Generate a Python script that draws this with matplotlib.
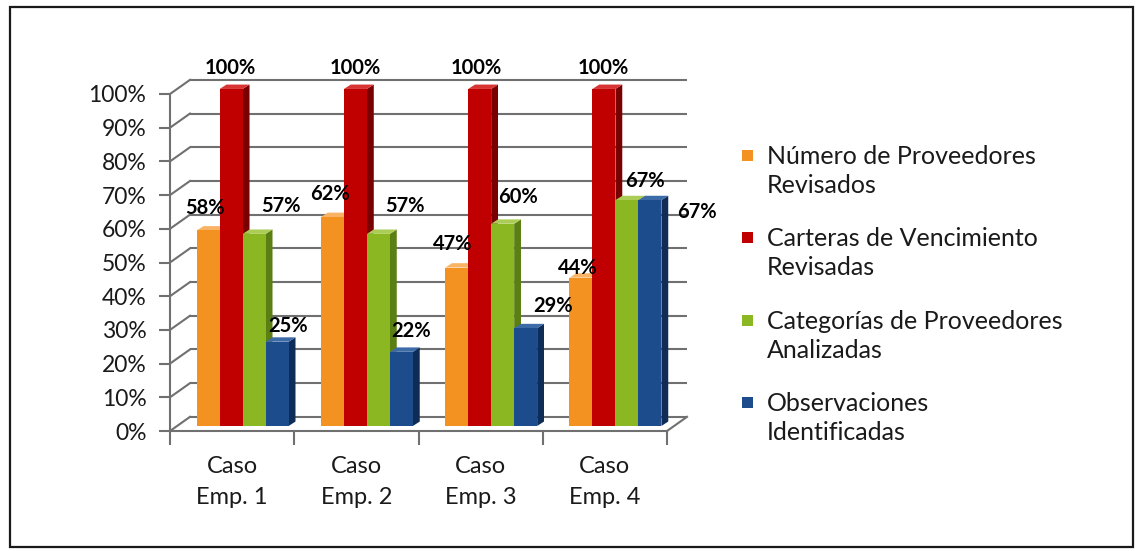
import numpy as np
import matplotlib
matplotlib.use("Agg")
import matplotlib.pyplot as plt
from matplotlib.patches import Polygon, Rectangle

plt.rcParams['font.family'] = ['Lato', 'DejaVu Sans']

# ---- data ----
categories = ["Caso\nEmp. 1", "Caso\nEmp. 2", "Caso\nEmp. 3", "Caso\nEmp. 4"]
series_names = [
    "Número de Proveedores\nRevisados",
    "Carteras de Vencimiento\nRevisadas",
    "Categorías de Proveedores\nAnalizadas",
    "Observaciones\nIdentificadas",
]
proveedores_revisados = [0.58, 0.62, 0.47, 0.44]
carteras_revisadas = [1.00, 1.00, 1.00, 1.00]
categorias_analizadas = [0.57, 0.57, 0.60, 0.67]
observaciones = [0.25, 0.22, 0.29, 0.67]
series_values = [proveedores_revisados, carteras_revisadas,
                 categorias_analizadas, observaciones]
y_ticks = np.round(np.arange(0, 1.01, 0.1), 2)

# ---- styling ----
front_colors = ["#F39221", "#C00000", "#8BB723", "#1D4C8C"]
side_colors = ["#B5610F", "#780000", "#5B7F12", "#0F2C57"]
top_colors = ["#F8B365", "#D83434", "#ABCD55", "#3D6BA8"]
grid_color = "#707070"
text_color = "#1a1a1a"

# label offsets in pixels (dx, dy) relative to the bar's front-top centre
label_offsets = [
    [(-3, 22), (-1, 21), (27, 28), (11, 16)],
    [(-2, 23), (0, 21), (27, 28), (10, 21)],
    [(-4, 24), (-3, 21), (15, 27), (27, 22)],
    [(-3, 10), (-1, 21), (18, 19), (47, -12)],
]

W, H = 1136, 551
fig = plt.figure(figsize=(W / 100, H / 100), dpi=100)
ax = fig.add_axes([170 / W, (H - 431) / H, 497 / W, 337 / H])
ax.set_xlim(0, 4)
ax.set_ylim(0, 1)
ax.patch.set_alpha(0)

# depth of the chart box (back wall offset) and bar depth, in data units
depth_x, depth_y = 0.161, 0.042
bar_dx, bar_dy = 0.055, 0.013
bar_base = 0.015
bar_w = 0.185
group_shift = 0.085

# back wall gridlines and side wall diagonals
for t in y_ticks:
    ax.plot([depth_x, 4 + depth_x], [t + depth_y, t + depth_y],
            color=grid_color, lw=1.5, zorder=1, clip_on=False,
            solid_capstyle='butt')
    ax.plot([0, depth_x], [t, t + depth_y], color=grid_color, lw=1.5,
            zorder=1, clip_on=False)
# floor right edge
ax.plot([4, 4 + depth_x], [0, depth_y], color=grid_color, lw=1.5,
        zorder=1, clip_on=False)

# bars with side and top faces
n_series = len(series_values)
for c in range(len(categories)):
    for s in range(n_series):
        v = series_values[s][c]
        left = c + 0.5 - n_series * bar_w / 2 + group_shift + s * bar_w
        z = 3 + c * 10 + s
        bars = ax.bar(left, v, width=bar_w, bottom=bar_base, align='edge',
                      color=front_colors[s], edgecolor='none', zorder=z + 0.5)
        for p in bars:
            p.set_clip_on(False)
        top = bar_base + v
        right = left + bar_w
        side = Polygon([(right, bar_base), (right + bar_dx, bar_base + bar_dy),
                        (right + bar_dx, top + bar_dy), (right, top)],
                       closed=True, facecolor=side_colors[s], edgecolor='none',
                       zorder=z + 0.4, clip_on=False)
        cap = Polygon([(left, top), (left + bar_dx, top + bar_dy),
                       (right + bar_dx, top + bar_dy), (right, top)],
                      closed=True, facecolor=top_colors[s], edgecolor='none',
                      zorder=z + 0.4, clip_on=False)
        ax.add_patch(side)
        ax.add_patch(cap)
        dx, dy = label_offsets[c][s]
        ax.annotate(f"{int(round(v * 100))}%", xy=(left + bar_w / 2, top),
                    xytext=(dx, dy), textcoords='offset pixels',
                    ha='center', va='center', fontsize=14.5,
                    fontweight='bold', color='black', zorder=100,
                    annotation_clip=False)

# axes lines and ticks
for side_name in ['top', 'right']:
    ax.spines[side_name].set_visible(False)
for side_name in ['left', 'bottom']:
    ax.spines[side_name].set_color(grid_color)
    ax.spines[side_name].set_linewidth(1.5)
    ax.spines[side_name].set_zorder(2)

ax.set_yticks(y_ticks)
ax.set_yticklabels([f"{int(round(t * 100))}%" for t in y_ticks])
ax.tick_params(axis='y', length=8, width=1.5, color=grid_color, pad=9,
               labelsize=16.5, labelcolor=text_color)
ax.set_xticks(np.arange(0, 5))
ax.set_xticklabels([])
ax.tick_params(axis='x', which='major', length=10, width=1.5,
               color=grid_color)
ax.set_xticks(np.arange(len(categories)) + 0.5, minor=True)
ax.set_xticklabels(categories, minor=True, fontsize=17, color=text_color,
                   linespacing=1.58)
ax.tick_params(axis='x', which='minor', length=0, pad=18)

# legend, drawn as squares and wrapped labels
legend_x_box = 742 / W
legend_x_text = 767 / W
first_line_y = [155, 237, 320, 402]
for s, name in enumerate(series_names):
    yc = (H - first_line_y[s]) / H
    fig.patches.append(Rectangle((legend_x_box, yc - 6 / H), 11 / W, 11 / H,
                                 transform=fig.transFigure,
                                 facecolor=front_colors[s], edgecolor='none'))
    fig.text(legend_x_text, yc + 10 / H, name, ha='left', va='top',
             fontsize=18, color=text_color, linespacing=1.34)

# outer frame
fig.patches.append(Rectangle((10 / W, 4 / H), 1123 / W, 540 / H,
                             transform=fig.transFigure, fill=False,
                             edgecolor='#1a1a1a', linewidth=1.6))

fig.savefig("out.png", dpi=100)
